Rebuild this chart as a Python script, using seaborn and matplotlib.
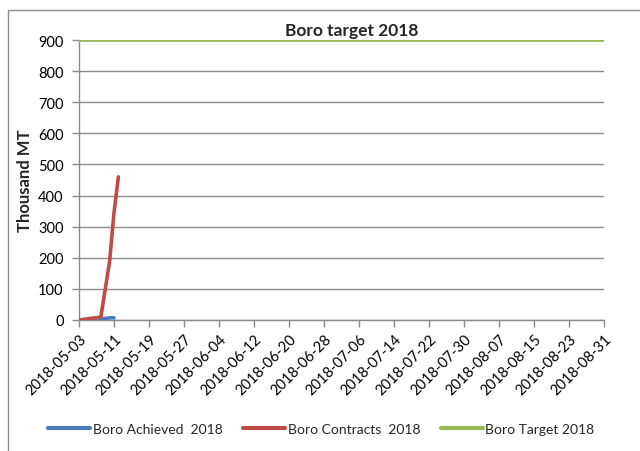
import matplotlib
matplotlib.use("Agg")
import matplotlib.pyplot as plt
import matplotlib.dates as mdates
from matplotlib.patches import Rectangle
import pandas as pd
import seaborn as sns

# Daily procurement figures (thousand MT)
achieved_dates = pd.date_range("2018-05-03", "2018-05-11", freq="D")
achieved_values = [0, 0, 1, 1, 2, 3, 5, 7, 7]

contract_dates = pd.date_range("2018-05-03", "2018-05-12", freq="D")
contract_values = [0, 2, 4, 6, 7, 10, 99, 189, 345, 460]

target_dates = pd.to_datetime(["2018-05-03", "2018-08-31"])
target_values = [900, 900]

tick_dates = pd.date_range("2018-05-03", "2018-08-31", freq="8D")
y_ticks = list(range(0, 1000, 100))

series_names = ["Boro Achieved  2018", "Boro Contracts  2018", "Boro Target 2018"]
series_colors = ["#4A7EBB", "#BE4B48", "#98B954"]

df = pd.concat([
    pd.DataFrame({"date": achieved_dates, "value": achieved_values, "series": series_names[0]}),
    pd.DataFrame({"date": contract_dates, "value": contract_values, "series": series_names[1]}),
    pd.DataFrame({"date": target_dates, "value": target_values, "series": series_names[2]}),
], ignore_index=True)

sns.set_theme(style="white")
plt.rcParams["font.family"] = ["Lato", "DejaVu Sans"]

fig = plt.figure(figsize=(6.4, 4.52), dpi=100)
ax = fig.add_axes([79 / 640, 1 - 321 / 452, 525 / 640, 280 / 452])

# outer chart frame
fig.patches.append(Rectangle((8 / 640, -0.05), 1.2, 1 - 11 / 452 + 0.05,
                             transform=fig.transFigure, fill=False,
                             edgecolor="#8C8C8C", linewidth=1.0))

sns.lineplot(data=df, x="date", y="value", hue="series",
             palette=dict(zip(series_names, series_colors)),
             linewidth=2.6, ax=ax, legend=False, zorder=3)

ax.set_xlim(pd.Timestamp("2018-05-03"), pd.Timestamp("2018-08-31"))
ax.set_ylim(0, 900)
ax.set_yticks(y_ticks)
ax.set_xticks(tick_dates)
ax.xaxis.set_major_formatter(mdates.DateFormatter("%Y-%m-%d"))
ax.yaxis.grid(True, color="#8C8C8C", linewidth=1.0)
ax.set_axisbelow(True)

for side in ["top", "right"]:
    ax.spines[side].set_visible(False)
for side in ["left", "bottom"]:
    ax.spines[side].set_color("#8C8C8C")
    ax.spines[side].set_linewidth(1.0)

ax.tick_params(axis="both", which="major", direction="out", length=5,
               width=1.0, color="#8C8C8C", labelsize=10.5, labelcolor="black",
               bottom=True, left=True)
ax.tick_params(axis="y", pad=6)
plt.setp(ax.get_xticklabels(), rotation=45, ha="right", rotation_mode="anchor")

ax.set_xlabel("")
ax.set_ylabel("Thousand MT", fontsize=12, fontweight="bold", labelpad=4)

fig.text(352 / 640, 1 - 31 / 452, "Boro target 2018", ha="center", va="center",
         fontsize=12.5, fontweight="bold")

handles = [plt.Line2D([], [], color=c, linewidth=3) for c in series_colors]
fig.legend(handles, series_names, loc="center", bbox_to_anchor=(0.502, 1 - 430 / 452),
           ncol=3, frameon=False, fontsize=10, handlelength=3.0,
           columnspacing=1.5, handletextpad=0.2)

fig.savefig("out.png", dpi=100)
